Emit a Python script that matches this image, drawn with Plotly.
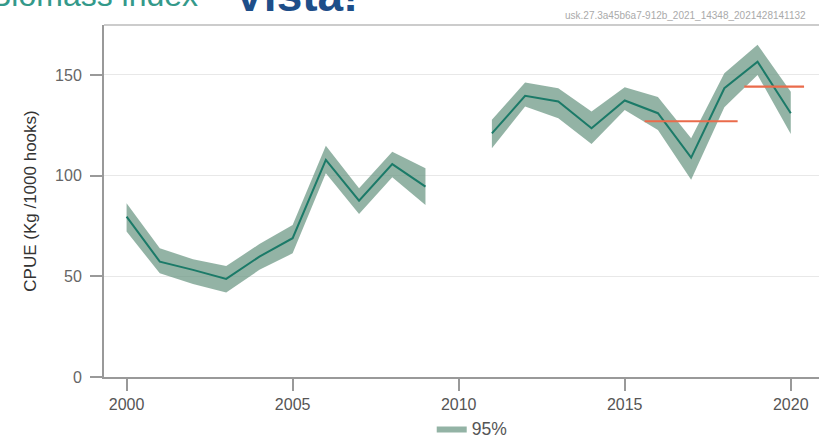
import plotly.graph_objects as go

# Survey index
years = [2000, 2001, 2002, 2003, 2004, 2005, 2006, 2007, 2008, 2009, 2010,
         2011, 2012, 2013, 2014, 2015, 2016, 2017, 2018, 2019, 2020]
cpue = [79.6, 57.3, 53.2, 48.7, 59.8, 68.9, 107.8, 87.6, 105.7, 94.5, None,
        121.0, 139.6, 136.8, 123.5, 137.3, 131.0, 108.9, 143.4, 156.6, 131.0]
upper = [86.3, 63.9, 58.5, 55.1, 66.0, 75.5, 114.8, 93.7, 111.9, 103.7, None,
         127.7, 146.2, 143.4, 131.8, 143.9, 139.0, 118.5, 150.9, 165.0, 141.7]
lower = [72.2, 51.5, 46.2, 41.9, 53.2, 61.4, 101.2, 81.0, 99.2, 85.4, None,
         113.6, 134.3, 128.5, 115.7, 132.6, 122.7, 97.9, 134.0, 150.0, 120.7]

# Period means (orange bars)
mean_start = [2015.6, 2018.6]
mean_end = [2018.4, 2020.4]
mean_val = [127.0, 144.2]

stock_code = "usk.27.3a45b6a7-912b_2021_14348_2021428141132"

TEAL = "#1b7a68"
BAND = "rgba(105,150,130,0.72)"
ORANGE = "#ea6b4b"
FONT = "Liberation Sans"

fig = go.Figure()

# split into continuous segments (gap in 2010)
segments = []
cur = []
for i, v in enumerate(cpue):
    if v is None:
        if cur:
            segments.append(cur)
        cur = []
    else:
        cur.append(i)
if cur:
    segments.append(cur)

for k, seg in enumerate(segments):
    xs = [years[i] for i in seg]
    fig.add_trace(go.Scatter(x=xs, y=[lower[i] for i in seg], mode="lines",
                             line=dict(width=0), showlegend=False,
                             hoverinfo="skip"))
    fig.add_trace(go.Scatter(x=xs, y=[upper[i] for i in seg], mode="lines",
                             line=dict(width=0), fill="tonexty",
                             fillcolor=BAND, name="95%",
                             showlegend=(k == 0), legendgroup="ci"))

for seg in segments:
    fig.add_trace(go.Scatter(x=[years[i] for i in seg],
                             y=[cpue[i] for i in seg], mode="lines",
                             line=dict(color=TEAL, width=2), showlegend=False))

for x0, x1, v in zip(mean_start, mean_end, mean_val):
    fig.add_trace(go.Scatter(x=[x0, x1], y=[v, v], mode="lines",
                             line=dict(color=ORANGE, width=2.2),
                             showlegend=False))

fig.update_layout(template="plotly_white",
                  autosize=False, width=819, height=439,
                  margin=dict(l=104, r=0, t=25, b=62, autoexpand=False),
                  plot_bgcolor="white", paper_bgcolor="white",
                  font=dict(family=FONT, color="#555"),
                  legend=dict(orientation="h", x=0.515, xanchor="center",
                              y=-0.147, yanchor="middle",
                              bgcolor="rgba(0,0,0,0)",
                              font=dict(size=17.5, color="#555", family=FONT),
                              itemwidth=30))

fig.update_xaxes(range=[1999.32, 2020.85], tickvals=[2000, 2005, 2010, 2015, 2020],
                 ticks="outside", ticklen=12, tickcolor="#999", tickwidth=1.5,
                 tickfont=dict(size=16, color="#555"), ticklabelstandoff=0,
                 showline=True, linecolor="#999", linewidth=2,
                 showgrid=False, zeroline=False)

fig.update_yaxes(range=[0, 174.8], tickvals=[0, 50, 100, 150],
                 ticks="outside", ticklen=12, tickcolor="#999", tickwidth=1.5,
                 tickfont=dict(size=16, color="#666"), ticklabelstandoff=5,
                 title=dict(text="CPUE (Kg /1000 hooks)",
                            font=dict(size=17, color="#333"), standoff=14),
                 showline=True, linecolor="#999", linewidth=2,
                 showgrid=True, gridcolor="#e8e8e8", zeroline=False)

# top frame line
fig.add_shape(type="line", xref="paper", yref="paper", x0=0, x1=1, y0=1, y1=1,
              line=dict(color="#bbb", width=1.5))

# cut-off header and stock code
fig.add_annotation(xref="paper", yref="paper", x=-0.162, y=1.027,
                   xanchor="left", yanchor="bottom", showarrow=False,
                   text="Biomass index",
                   font=dict(size=32, family=FONT, color="#34998a"))
fig.add_annotation(xref="paper", yref="paper", x=0.179, y=1.006,
                   xanchor="left", yanchor="bottom", showarrow=False,
                   text="<b>Vista!</b>",
                   font=dict(size=46, family=FONT, color="#1d4e89"))
fig.add_annotation(xref="paper", yref="paper", x=0.984, y=1.005,
                   xanchor="right", yanchor="bottom", showarrow=False,
                   text=stock_code, font=dict(size=10, color="#aaa"))

# no page margin so the figure sits at the window's top-left corner
fig.write_html("out.html", config={"displayModeBar": False},
               post_script="document.body.style.margin='0';")
